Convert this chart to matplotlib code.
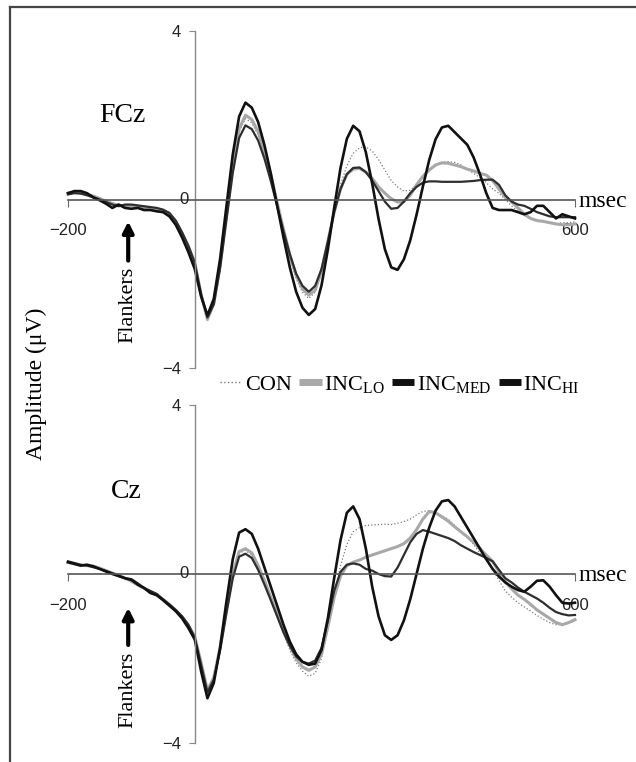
import matplotlib
matplotlib.use("Agg")
import matplotlib.pyplot as plt
from matplotlib.lines import Line2D

plt.rcParams['mathtext.fontset'] = 'custom'
plt.rcParams['mathtext.rm'] = 'Liberation Serif'

# time axis (msec) and amplitudes (uV)
time = list(range(-200, 601, 10))

fcz_con = [0.17, 0.16, 0.15, 0.14, 0.10, 0.04, -0.03, -0.08, -0.12, -0.13,
           -0.14, -0.15, -0.18, -0.2, -0.22, -0.25, -0.3, -0.5, -0.8, -1.15,
           -1.55, -2.3, -2.85, -2.48, -1.59, -0.40, 0.75, 1.61, 1.92, 1.82,
           1.53, 1.07, 0.50, -0.15, -0.79, -1.39, -1.88, -2.20, -2.35, -2.2,
           -1.75, -1.05, -0.3, 0.35, 0.8, 1.1, 1.23, 1.25, 1.15, 0.95,
           0.7, 0.45, 0.3, 0.2, 0.22, 0.35, 0.55, 0.72, 0.82, 0.88,
           0.9, 0.88, 0.82, 0.72, 0.62, 0.52, 0.4, 0.25, 0.15, 0.0,
           -0.15, -0.28, -0.38, -0.45, -0.5, -0.52, -0.55, -0.58, -0.55, -0.55,
           -0.53]
fcz_lo = [0.15, 0.17, 0.16, 0.12, 0.08, 0.02, -0.04, -0.1, -0.14, -0.15,
          -0.15, -0.16, -0.2, -0.22, -0.25, -0.28, -0.35, -0.52, -0.8, -1.12,
          -1.5, -2.25, -2.85, -2.47, -1.56, -0.36, 0.81, 1.68, 2.0, 1.90,
          1.61, 1.15, 0.58, -0.07, -0.71, -1.31, -1.80, -2.12, -2.27, -2.15,
          -1.7, -1.0, -0.3, 0.25, 0.6, 0.72, 0.74, 0.65, 0.5, 0.3,
          0.15, 0.02, -0.06, -0.05, 0.1, 0.35, 0.55, 0.7, 0.82, 0.87,
          0.86, 0.82, 0.78, 0.72, 0.68, 0.62, 0.58, 0.45, 0.25, 0.05,
          -0.05, -0.2, -0.35, -0.45, -0.5, -0.52, -0.55, -0.58, -0.6, -0.6,
          -0.58]
fcz_med = [0.12, 0.15, 0.14, 0.1, 0.05, 0.0, -0.06, -0.12, -0.16, -0.12,
           -0.12, -0.14, -0.16, -0.18, -0.2, -0.24, -0.32, -0.5, -0.78, -1.1,
           -1.5, -2.25, -2.8, -2.49, -1.63, -0.49, 0.63, 1.46, 1.76, 1.67,
           1.40, 0.97, 0.44, -0.16, -0.75, -1.30, -1.76, -2.05, -2.19, -2.05,
           -1.65, -1.0, -0.3, 0.25, 0.6, 0.75, 0.76, 0.65, 0.45, 0.2,
           -0.05, -0.22, -0.2, -0.05, 0.15, 0.3, 0.4, 0.43, 0.43, 0.42,
           0.42, 0.42, 0.42, 0.43, 0.44, 0.46, 0.47, 0.47, 0.35, 0.1,
           -0.05, -0.12, -0.15, -0.22, -0.3, -0.35, -0.4, -0.42, -0.42, -0.42,
           -0.42]
fcz_hi = [0.15, 0.2, 0.2, 0.15, 0.05, -0.02, -0.1, -0.2, -0.12, -0.2,
          -0.22, -0.2, -0.25, -0.25, -0.28, -0.3, -0.4, -0.6, -0.9, -1.25,
          -1.65, -2.3, -2.75, -2.36, -1.41, -0.16, 1.07, 1.97, 2.3, 2.18,
          1.84, 1.29, 0.62, -0.14, -0.90, -1.61, -2.19, -2.57, -2.74, -2.60,
          -2.04, -1.19, -0.20, 0.75, 1.44, 1.75, 1.62, 1.12, 0.38, -0.46,
          -1.18, -1.61, -1.67, -1.42, -0.97, -0.36, 0.31, 0.94, 1.43, 1.71,
          1.75, 1.6, 1.45, 1.3, 1.0, 0.6, 0.15, -0.2, -0.25, -0.25,
          -0.25, -0.3, -0.35, -0.3, -0.15, -0.15, -0.3, -0.45, -0.35, -0.4,
          -0.45]

cz_con = [0.29, 0.25, 0.2, 0.18, 0.17, 0.13, 0.08, 0.03, -0.02, -0.08,
          -0.15, -0.25, -0.35, -0.42, -0.52, -0.62, -0.75, -0.88, -1.05, -1.25,
          -1.5, -2.1, -2.75, -2.45, -1.75, -0.86, -0.03, 0.49, 0.56, 0.45,
          0.15, -0.2, -0.6, -1.0, -1.4, -1.8, -2.1, -2.3, -2.42, -2.35,
          -2.0, -1.3, -0.5, 0.2, 0.7, 1.0, 1.1, 1.15, 1.16, 1.17,
          1.18, 1.17, 1.2, 1.24, 1.3, 1.4, 1.48, 1.5, 1.45, 1.38,
          1.3, 1.15, 1.0, 0.88, 0.7, 0.5, 0.33, 0.1, -0.15, -0.4,
          -0.55, -0.68, -0.78, -0.88, -0.98, -1.07, -1.15, -1.2, -1.2, -1.15,
          -1.12]
cz_lo = [0.27, 0.24, 0.2, 0.2, 0.19, 0.14, 0.08, 0.02, -0.03, -0.1,
         -0.17, -0.26, -0.34, -0.42, -0.5, -0.6, -0.72, -0.86, -1.02, -1.22,
         -1.48, -2.1, -2.75, -2.45, -1.74, -0.83, 0.0, 0.53, 0.6, 0.5,
         0.2, -0.15, -0.55, -0.95, -1.35, -1.7, -2.0, -2.2, -2.28, -2.2,
         -1.9, -1.25, -0.55, -0.05, 0.2, 0.28, 0.33, 0.4, 0.45, 0.5,
         0.55, 0.6, 0.65, 0.72, 0.85, 1.05, 1.3, 1.48, 1.45, 1.35,
         1.25, 1.12, 1.0, 0.88, 0.75, 0.6, 0.45, 0.3, 0.05, -0.18,
         -0.35, -0.5, -0.6, -0.72, -0.85, -0.95, -1.05, -1.15, -1.2, -1.15,
         -1.08]
cz_med = [0.3, 0.26, 0.22, 0.2, 0.16, 0.12, 0.07, 0.02, -0.04, -0.1,
          -0.12, -0.22, -0.33, -0.4, -0.47, -0.6, -0.72, -0.85, -1.0, -1.2,
          -1.5, -2.15, -2.8, -2.5, -1.81, -0.93, -0.10, 0.41, 0.48, 0.38,
          0.1, -0.25, -0.62, -1.0, -1.38, -1.7, -1.95, -2.08, -2.12, -2.05,
          -1.75, -1.1, -0.4, 0.05, 0.22, 0.25, 0.22, 0.12, 0.08, 0.0,
          -0.05, -0.06, 0.15, 0.45, 0.75, 0.95, 1.04, 1.0, 0.95, 0.9,
          0.85, 0.78, 0.68, 0.6, 0.52, 0.45, 0.38, 0.3, 0.1, -0.1,
          -0.2, -0.32, -0.42, -0.5, -0.58, -0.68, -0.8, -0.9, -0.95, -0.98,
          -0.97]
cz_hi = [0.28, 0.24, 0.2, 0.22, 0.18, 0.12, 0.06, 0.0, -0.05, -0.1,
         -0.14, -0.25, -0.33, -0.45, -0.5, -0.62, -0.75, -0.88, -1.05, -1.28,
         -1.55, -2.3, -2.94, -2.58, -1.74, -0.65, 0.35, 0.98, 1.06, 0.95,
         0.6, 0.15, -0.3, -0.75, -1.2, -1.6, -1.9, -2.08, -2.15, -2.12,
         -1.8, -1.05, -0.1, 0.8, 1.45, 1.6, 1.3, 0.6, -0.3, -1.0,
         -1.45, -1.56, -1.45, -1.1, -0.6, 0.0, 0.6, 1.1, 1.5, 1.72,
         1.75, 1.6, 1.35, 1.1, 0.85, 0.6, 0.35, 0.12, -0.06, -0.2,
         -0.3, -0.38, -0.42, -0.3, -0.16, -0.15, -0.3, -0.5, -0.68, -0.7,
         -0.68]

labels = ['CON', 'INC$_{\\mathrm{LO}}$', 'INC$_{\\mathrm{MED}}$', 'INC$_{\\mathrm{HI}}$']
styles = [dict(color='#7a7a7a', lw=0.9, ls=':'),
          dict(color='#a8a8a8', lw=2.2),
          dict(color='#2e2e2e', lw=1.6),
          dict(color='#111111', lw=1.9)]

serif = 'Liberation Serif'
sans = 'Liberation Sans'

fig = plt.figure(figsize=(6.36, 7.62), dpi=100)
ax1 = fig.add_axes([68/636, 1-368/762, 507/636, 337/762])
ax2 = fig.add_axes([68/636, 1-743/762, 507/636, 338/762])


def style(ax, name, name_xy, arrow_y, flank_y):
    ax.set_xlim(-200, 600)
    ax.set_ylim(-4, 4)
    ax.spines['top'].set_visible(False)
    ax.spines['right'].set_visible(False)
    ax.spines['left'].set_position(('data', 0))
    ax.spines['bottom'].set_position(('data', 0))
    ax.spines['left'].set_color('#888888')
    ax.spines['left'].set_linewidth(1.0)
    ax.spines['bottom'].set_color('#555555')
    ax.spines['bottom'].set_linewidth(1.2)
    ax.set_xticks([-200, 600])
    ax.set_xticklabels(['\u2212200', '600'], family=sans, fontsize=12)
    ax.set_yticks([-4, 4])
    ax.set_yticklabels(['\u22124', '4'], family=sans, fontsize=12)
    ax.tick_params(axis='x', direction='out', length=5, pad=12,
                   color='#666666', labelcolor='#222222')
    ax.tick_params(axis='y', direction='out', length=4, pad=6,
                   color='#888888', labelcolor='#222222')
    ax.patch.set_alpha(0)
    ax.text(-10, 0, '0', family=sans, fontsize=12, ha='right', va='center',
            color='#222222')
    ax.text(606, -0.17, 'msec', family=serif, fontsize=17, ha='left',
            va='baseline')
    ax.text(name_xy[0], name_xy[1], name, family=serif, fontsize=20,
            ha='left', va='baseline')
    ax.annotate('', xy=(-105, arrow_y[1]), xytext=(-105, arrow_y[0]),
                arrowprops=dict(arrowstyle='-|>', lw=3, color='black',
                                mutation_scale=16, shrinkA=0, shrinkB=0))
    ax.text(-105, flank_y, 'Flankers', family=serif, fontsize=16,
            rotation=90, ha='center', va='center')


for ax, series in [(ax1, [fcz_con, fcz_lo, fcz_med, fcz_hi]),
                   (ax2, [cz_con, cz_lo, cz_med, cz_hi])]:
    for vals, lab, st in zip(series, labels, styles):
        ax.plot(time, vals, label=lab, clip_on=False, **st)

style(ax1, 'FCz', (-151, 1.83), (-1.45, -0.52), -2.5)
style(ax2, 'Cz', (-132, 1.8), (-1.68, -0.8), -2.74)

handles = [Line2D([], [], color='#7a7a7a', lw=1.0, ls=':'),
           Line2D([], [], color='#a8a8a8', lw=5, solid_capstyle='butt'),
           Line2D([], [], color='#111111', lw=5, solid_capstyle='butt'),
           Line2D([], [], color='#111111', lw=5, solid_capstyle='butt')]
fig.legend(handles, labels, loc='center', bbox_to_anchor=(400/636, 1-385/762),
           ncol=4, frameon=False, handlelength=1.0, handletextpad=0.1,
           columnspacing=0.35, prop={'family': serif, 'size': 16})

fig.text(36/636, 1-384/762, 'Amplitude (\u03bcV)', family=serif, fontsize=17,
         rotation=90, ha='center', va='center')

# partial frame: top and left edges
fig.add_artist(Line2D([10/636, 10/636], [0, 1-7/762], transform=fig.transFigure,
                      color='#444444', lw=1.6))
fig.add_artist(Line2D([10/636, 1], [1-7/762, 1-7/762], transform=fig.transFigure,
                      color='#444444', lw=1.6))

fig.savefig('out.png', dpi=100)
